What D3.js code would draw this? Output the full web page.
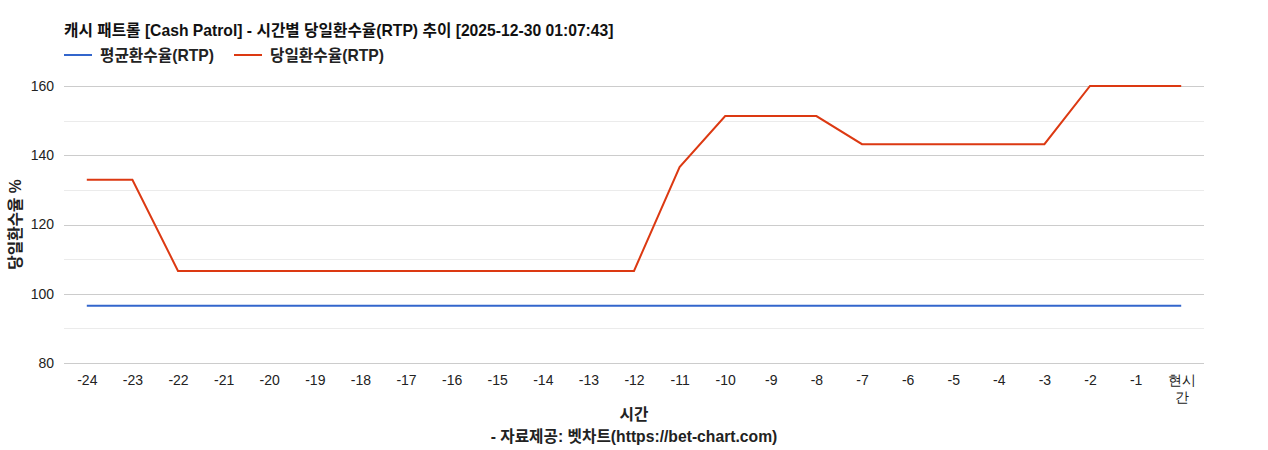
<!DOCTYPE html>
<html>
<head>
<meta charset="utf-8">
<script src="https://cdn.jsdelivr.net/npm/d3@7"></script>
<style>
  body { margin: 0; background: #fff; }
  svg { font-family: "Liberation Sans", Arial, "Noto Sans CJK KR", sans-serif; }
</style>
</head>
<body>
<div id="chart"></div>
<script>
// chart data
const hours = ["-24","-23","-22","-21","-20","-19","-18","-17","-16","-15","-14","-13","-12",
  "-11","-10","-9","-8","-7","-6","-5","-4","-3","-2","-1","현시간"];
const avgRtp = [96.5,96.5,96.5,96.5,96.5,96.5,96.5,96.5,96.5,96.5,96.5,96.5,96.5,
  96.5,96.5,96.5,96.5,96.5,96.5,96.5,96.5,96.5,96.5,96.5,96.5];
const dayRtp = [132.9,132.9,106.6,106.6,106.6,106.6,106.6,106.6,106.6,106.6,106.6,106.6,106.6,
  136.6,151.3,151.3,151.3,143.2,143.2,143.2,143.2,143.2,160,160,160];
const majorTicks = [80, 100, 120, 140, 160];
const minorTicks = [90, 110, 130, 150];
const seriesNames = ["평균환수율(RTP)", "당일환수율(RTP)"];

const width = 1268, height = 450;
const margin = {top: 86, right: 64, bottom: 87, left: 64};
const innerW = width - margin.left - margin.right;
const innerH = height - margin.top - margin.bottom;
const colors = ["#3366cc", "#dc3912"];
const boldSize = 15.7;

const svg = d3.select("#chart").append("svg")
  .attr("width", width)
  .attr("height", height);

const x = d3.scalePoint().domain(hours).range([0, innerW]).padding(0.5);
const y = d3.scaleLinear().domain([80, 160]).range([innerH, 0]);

const g = svg.append("g").attr("transform", `translate(${margin.left},${margin.top})`);

// gridlines
g.append("g").selectAll("line.minor")
  .data(minorTicks)
  .enter().append("line")
  .attr("x1", 0).attr("x2", innerW)
  .attr("y1", d => Math.round(y(d)) + 0.5).attr("y2", d => Math.round(y(d)) + 0.5)
  .attr("stroke", "#ebebeb");

g.append("g").selectAll("line.major")
  .data(majorTicks)
  .enter().append("line")
  .attr("x1", 0).attr("x2", innerW)
  .attr("y1", d => Math.round(y(d)) + 0.5).attr("y2", d => Math.round(y(d)) + 0.5)
  .attr("stroke", "#cccccc");

// y tick labels
const yAxis = g.append("g")
  .call(d3.axisLeft(y).tickValues(majorTicks).tickSize(0).tickPadding(10));
yAxis.select(".domain").remove();
yAxis.selectAll("text").attr("font-size", 14).attr("fill", "#222").attr("font-family", null);

// x tick labels
const xAxis = g.append("g")
  .attr("transform", `translate(0,${innerH})`)
  .call(d3.axisBottom(x).tickSize(0).tickPadding(12));
xAxis.select(".domain").remove();
xAxis.selectAll("text")
  .attr("font-size", 14).attr("fill", "#222").attr("font-family", null)
  .each(function(d) {
    if (d.length > 2 && !d.startsWith("-")) {
      const t = d3.select(this).text(null);
      t.append("tspan").attr("x", 0).attr("dy", "0.71em").text(d.slice(0, 2));
      t.append("tspan").attr("x", 0).attr("dy", "1.2em").text(d.slice(2));
      t.attr("dy", null);
    }
  });

// lines
const line = d3.line().x((d, i) => x(hours[i])).y(d => y(d));
[avgRtp, dayRtp].forEach((s, i) => {
  g.append("path")
    .datum(s)
    .attr("fill", "none")
    .attr("stroke", colors[i])
    .attr("stroke-width", 2)
    .attr("d", line);
});

// title
svg.append("text")
  .attr("x", 64).attr("y", 36)
  .attr("font-size", boldSize).attr("font-weight", "bold").attr("fill", "#111")
  .text("캐시 패트롤 [Cash Patrol] - 시간별 당일환수율(RTP) 추이 [2025-12-30 01:07:43]");

// legend
const legend = svg.append("g").attr("transform", "translate(64,55)");
let lx = 0;
seriesNames.forEach((name, i) => {
  const item = legend.append("g").attr("transform", `translate(${lx},0)`);
  item.append("line").attr("x1", 0).attr("x2", 28).attr("y1", 0).attr("y2", 0)
    .attr("stroke", colors[i]).attr("stroke-width", 2);
  const t = item.append("text").attr("x", 36).attr("y", 5.5)
    .attr("font-size", boldSize).attr("font-weight", "bold").attr("fill", "#222")
    .text(name);
  lx += 36 + t.node().getComputedTextLength() + 20;
});

// axis titles
svg.append("text")
  .attr("transform", `translate(21,${margin.top + innerH / 2}) rotate(-90)`)
  .attr("text-anchor", "middle")
  .attr("font-size", boldSize).attr("font-weight", "bold").attr("fill", "#222")
  .text("당일환수율 %");

svg.append("text")
  .attr("x", margin.left + innerW / 2).attr("y", 420)
  .attr("text-anchor", "middle")
  .attr("font-size", boldSize).attr("font-weight", "bold").attr("fill", "#222")
  .text("시간");

svg.append("text")
  .attr("x", margin.left + innerW / 2).attr("y", 442)
  .attr("text-anchor", "middle")
  .attr("font-size", boldSize).attr("font-weight", "bold").attr("fill", "#222")
  .text("- 자료제공: 벳차트(https://bet-chart.com)");
</script>
</body>
</html>
